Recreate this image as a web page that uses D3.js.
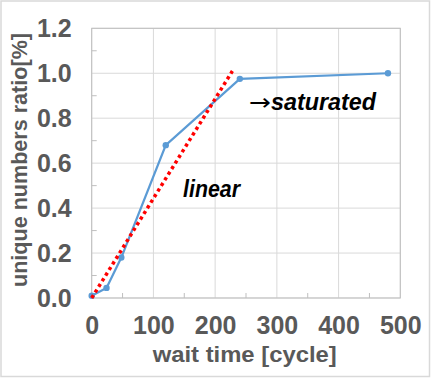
<!DOCTYPE html>
<html>
<head>
<meta charset="utf-8">
<script src="https://cdn.jsdelivr.net/npm/d3@7"></script>
<style>
  body { margin: 0; background: #fff; }
  svg text { font-family: "Liberation Sans", Arial, sans-serif; font-weight: bold; }
</style>
</head>
<body>
<div class="chart"></div>
<script>
// measured data (wait time in cycles vs unique numbers ratio)
var waitTime = [0, 24, 48, 120, 240, 480];
var uniqueRatio = [0.01, 0.045, 0.18, 0.68, 0.975, 1.0];

// red dotted "linear" guide
var linearX = [0, 228];
var linearY = [0.0, 1.01];

var xTicks = [0, 100, 200, 300, 400, 500];
var xMinor = [50, 150, 250, 350, 450];
var yTicks = [0, 0.2, 0.4, 0.6, 0.8, 1.0, 1.2];
var yMinor = [0.1, 0.3, 0.5, 0.7, 0.9, 1.1];

var notes = ["linear", "saturated"];
var notePrefix = ["", "\u2192"];
var noteX = [148, 255];
var noteY = [0.45, 0.837];
var noteLen = [57, 127];

var width = 432, height = 378;
var plotL = 91.7, plotR = 400.3, plotT = 28.3, plotB = 298;

var svg = d3.select(".chart")
  .append("svg")
  .attr("width", width)
  .attr("height", height);

svg.append("rect")
  .attr("x", 1).attr("y", 1)
  .attr("width", 428.5).attr("height", 375.5)
  .attr("fill", "#fff")
  .attr("stroke", "#d9d9d9")
  .attr("stroke-width", 1.5);

var x = d3.scaleLinear().domain([0, 500]).range([plotL, plotR]);
var y = d3.scaleLinear().domain([0, 1.2]).range([plotB, plotT]);

// grid
svg.append("g").selectAll("line").data(yTicks).enter().append("line")
  .attr("x1", plotL).attr("x2", plotR)
  .attr("y1", function(d){ return y(d); })
  .attr("y2", function(d){ return y(d); })
  .attr("stroke", "#d9d9d9").attr("stroke-width", 1);
svg.append("g").selectAll("line").data(xTicks).enter().append("line")
  .attr("y1", plotT).attr("y2", plotB)
  .attr("x1", function(d){ return x(d); })
  .attr("x2", function(d){ return x(d); })
  .attr("stroke", "#d9d9d9").attr("stroke-width", 1);

// minor ticks
svg.append("g").selectAll("line").data(yMinor).enter().append("line")
  .attr("x1", plotL).attr("x2", plotL + 5)
  .attr("y1", function(d){ return y(d); })
  .attr("y2", function(d){ return y(d); })
  .attr("stroke", "#bfbfbf");
svg.append("g").selectAll("line").data(xMinor).enter().append("line")
  .attr("y1", plotB).attr("y2", plotB - 5)
  .attr("x1", function(d){ return x(d); })
  .attr("x2", function(d){ return x(d); })
  .attr("stroke", "#bfbfbf");

svg.append("rect")
  .attr("x", plotL).attr("y", plotT)
  .attr("width", plotR - plotL).attr("height", plotB - plotT)
  .attr("fill", "none")
  .attr("stroke", "#bfbfbf");

// axes labels via d3 axes
var xAxis = svg.append("g")
  .attr("transform", "translate(0," + plotB + ")")
  .call(d3.axisBottom(x).tickValues(xTicks).tickSize(0).tickPadding(18));
var yAxis = svg.append("g")
  .attr("transform", "translate(" + plotL + ",0)")
  .call(d3.axisLeft(y).tickValues(yTicks).tickSize(0).tickPadding(20).tickFormat(d3.format(".1f")));
[xAxis, yAxis].forEach(function(a){
  a.select(".domain").remove();
  a.selectAll("text")
    .attr("fill", "#595959")
    .style("font-size", "25px")
    .style("font-family", "\"Liberation Sans\", Arial, sans-serif");
});

// series
var line = d3.line()
  .x(function(d){ return x(d[0]); })
  .y(function(d){ return y(d[1]); });

var pts = waitTime.map(function(t, i){ return [t, uniqueRatio[i]]; });
svg.append("path")
  .datum(pts)
  .attr("d", line)
  .attr("fill", "none")
  .attr("stroke", "#5b9bd5")
  .attr("stroke-width", 2.25);
svg.append("g").selectAll("circle").data(pts).enter().append("circle")
  .attr("cx", function(d){ return x(d[0]); })
  .attr("cy", function(d){ return y(d[1]); })
  .attr("r", 3.2)
  .attr("fill", "#5b9bd5");

svg.append("path")
  .datum(linearX.map(function(t, i){ return [t, linearY[i]]; }))
  .attr("d", line)
  .attr("fill", "none")
  .attr("stroke", "#ff0000")
  .attr("stroke-width", 3.5)
  .attr("stroke-dasharray", "3.3,3.3");

// annotations (arrow from DejaVu, it has a proper wide glyph)
svg.append("g").selectAll("text").data(notes).enter().append("text")
  .attr("x", function(d, i){ return x(noteX[i]); })
  .attr("y", function(d, i){ return y(noteY[i]); })
  .attr("fill", "#000")
  .style("font-size", "23px")
  .each(function(d, i){
    var t = d3.select(this);
    var pre = 0;
    if (notePrefix[i]) {
      pre = 22;
      t.append("tspan")
        .style("font-family", "\"DejaVu Sans\", sans-serif")
        .style("font-weight", "normal")
        .attr("textLength", pre)
        .attr("lengthAdjust", "spacingAndGlyphs")
        .text(notePrefix[i]);
    }
    t.append("tspan")
      .style("font-style", "italic")
      .attr("textLength", noteLen[i] - pre)
      .attr("lengthAdjust", "spacingAndGlyphs")
      .text(d);
  });

// axis titles
svg.append("text")
  .attr("x", 244.7).attr("y", 361.7)
  .attr("text-anchor", "middle")
  .attr("textLength", 184)
  .attr("lengthAdjust", "spacingAndGlyphs")
  .attr("fill", "#595959")
  .style("font-size", "22px")
  .text("wait time [cycle]");

svg.append("text")
  .attr("transform", "translate(27,160) rotate(-90)")
  .attr("text-anchor", "middle")
  .attr("textLength", 254)
  .attr("lengthAdjust", "spacingAndGlyphs")
  .attr("fill", "#595959")
  .style("font-size", "22px")
  .text("unique numbers ratio[%]");
</script>
</body>
</html>
